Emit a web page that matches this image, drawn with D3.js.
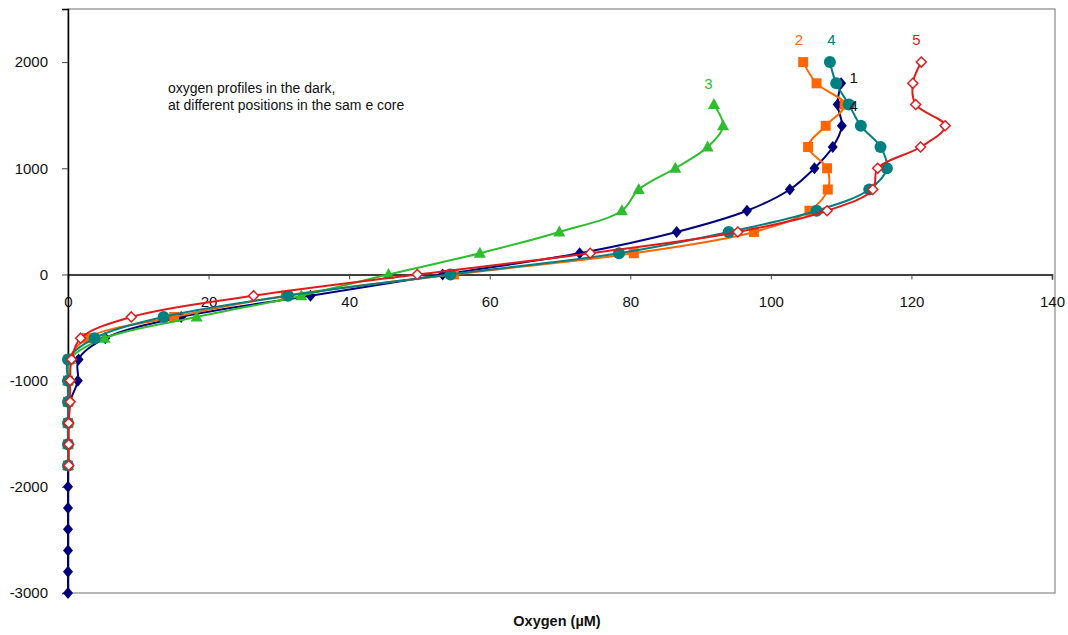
<!DOCTYPE html>
<html><head><meta charset="utf-8">
<script src="https://cdn.jsdelivr.net/npm/d3@7"></script>
<style>body{margin:0;background:#fff;} text{font-family:"Liberation Sans",Arial,sans-serif;}</style>
</head><body><svg id="c" width="1068" height="635"></svg>
<script>
const depths = [2000,1800,1600,1400,1200,1000,800,600,400,200,0,-200,-400,-600,-800,-1000,-1200,-1400,-1600,-1800,-2000,-2200,-2400,-2600,-2800,-3000];
const s1 = [null,110.0,109.5,110.1,108.8,106.2,102.7,96.6,86.6,72.8,53.3,34.5,16.1,5.3,1.5,1.4,0.3,0,0,0,0,0,0,0,0,0];
const s2 = [104.6,106.5,110.5,107.8,105.3,108.0,108.1,105.5,97.6,80.5,54.9,31.0,15.1,2.7,0.2,0,0,0,0,0,null,null,null,null,null,null];
const s3 = [null,null,91.9,93.2,91.0,86.4,81.2,78.8,69.9,58.6,45.6,33.2,18.3,5.2,0.3,0,0,0,0,0,null,null,null,null,null,null];
const s4 = [108.4,109.3,111.1,112.8,115.6,116.5,114.0,106.5,94.0,78.4,54.4,31.3,13.6,3.8,0,0,0,0,0,0,null,null,null,null,null,null];
const s5 = [121.4,120.2,120.6,124.8,121.3,115.2,114.5,108.0,95.3,74.3,49.7,26.4,9.0,1.8,0.5,0.3,0.3,0.1,0.1,0.1,null,null,null,null,null,null];
const seriesNames = ["1","2","3","4","5"];
const xTicks = [0,20,40,60,80,100,120,140];
const yTicks = [2000,1000,0,-1000,-2000,-3000];

const svg = d3.select("#c");
const x = d3.scaleLinear().domain([0,140]).range([68,1052]);
const y = d3.scaleLinear().domain([-3000,2500]).range([593,9]);
const fmt = d => String(d);

// plot border
svg.append("rect").attr("x",68).attr("y",9).attr("width",1055-68).attr("height",593-9)
  .attr("fill","none").attr("stroke","#888").attr("stroke-width",1.2);

// x axis at y=0
const xa = svg.append("g").attr("transform",`translate(0,${y(0)})`)
  .call(d3.axisBottom(x).tickValues(xTicks).tickSize(5).tickPadding(17).tickFormat(fmt));
// y axis at x=0
const ya = svg.append("g").attr("transform",`translate(${x(0)},0)`)
  .call(d3.axisLeft(y).tickValues(yTicks).tickSize(6).tickPadding(14).tickFormat(fmt));
[xa,ya].forEach(a=>{
  a.select(".domain").attr("stroke","#000").attr("stroke-width",1.5);
  a.selectAll(".tick line").attr("stroke","#444");
  a.selectAll("text").attr("font-size",15).attr("fill","#111").attr("font-family","Liberation Sans, Arial, sans-serif");
});

const defs = [
  {vals:s1,color:"#00007f",shape:"diamond"},
  {vals:s2,color:"#ff6600",shape:"square"},
  {vals:s3,color:"#2ebd2e",shape:"triangle"},
  {vals:s4,color:"#008080",shape:"circle"},
  {vals:s5,color:"#e31a1c",shape:"opendiamond"},
];
const line = d3.line().x(d=>x(d.v)).y(d=>y(d.d)).curve(d3.curveCatmullRom.alpha(0.5));

defs.forEach((s,i)=>{
  const pts = depths.map((d,j)=>({d:d,v:s.vals[j]})).filter(p=>p.v!==null);
  svg.append("path").datum(pts).attr("d",line).attr("fill","none")
    .attr("stroke",s.color).attr("stroke-width",2);
  const g = svg.append("g");
  pts.forEach(p=>{
    const cx=x(p.v), cy=y(p.d);
    if(s.shape==="diamond"){
      g.append("path").attr("d",`M${cx},${cy-6}L${cx+5},${cy}L${cx},${cy+6}L${cx-5},${cy}Z`).attr("fill",s.color);
    } else if(s.shape==="square"){
      g.append("rect").attr("x",cx-5).attr("y",cy-5).attr("width",10).attr("height",10).attr("fill",s.color);
    } else if(s.shape==="triangle"){
      g.append("path").attr("d",`M${cx},${cy-6.5}L${cx+6},${cy+4.5}L${cx-6},${cy+4.5}Z`).attr("fill",s.color);
    } else if(s.shape==="circle"){
      g.append("circle").attr("cx",cx).attr("cy",cy).attr("r",6).attr("fill",s.color);
    } else {
      g.append("path").attr("d",`M${cx},${cy-5}L${cx+5},${cy}L${cx},${cy+5}L${cx-5},${cy}Z`)
        .attr("fill","#fff").attr("stroke",s.color).attr("stroke-width",1.5);
    }
  });
});

// series labels
const labels = [
  {t:"2",v:104.0,d:2200,c:"#ff6600"},
  {t:"4",v:108.6,d:2200,c:"#008080"},
  {t:"5",v:120.7,d:2200,c:"#e31a1c"},
  {t:"3",v:91.1,d:1780,c:"#2ebd2e"},
  {t:"1",v:111.8,d:1840,c:"#111"},
  {t:"4",v:111.8,d:1580,c:"#111"},
];
labels.forEach(l=>{
  svg.append("text").attr("x",x(l.v)).attr("y",y(l.d)).attr("text-anchor","middle")
    .attr("dominant-baseline","middle").attr("font-size",15).attr("fill",l.c).text(l.t);
});

// annotation
svg.append("text").attr("x",168).attr("y",93).attr("font-size",14).attr("fill","#111").text("oxygen profiles in the dark,");
svg.append("text").attr("x",168).attr("y",110).attr("font-size",14).attr("fill","#111").text("at different positions in the sam e core");

// axis title
svg.append("text").attr("x",557).attr("y",626).attr("text-anchor","middle").attr("font-size",14.5)
  .attr("font-weight","bold").attr("fill","#111").text("Oxygen (µM)");
</script></body></html>
